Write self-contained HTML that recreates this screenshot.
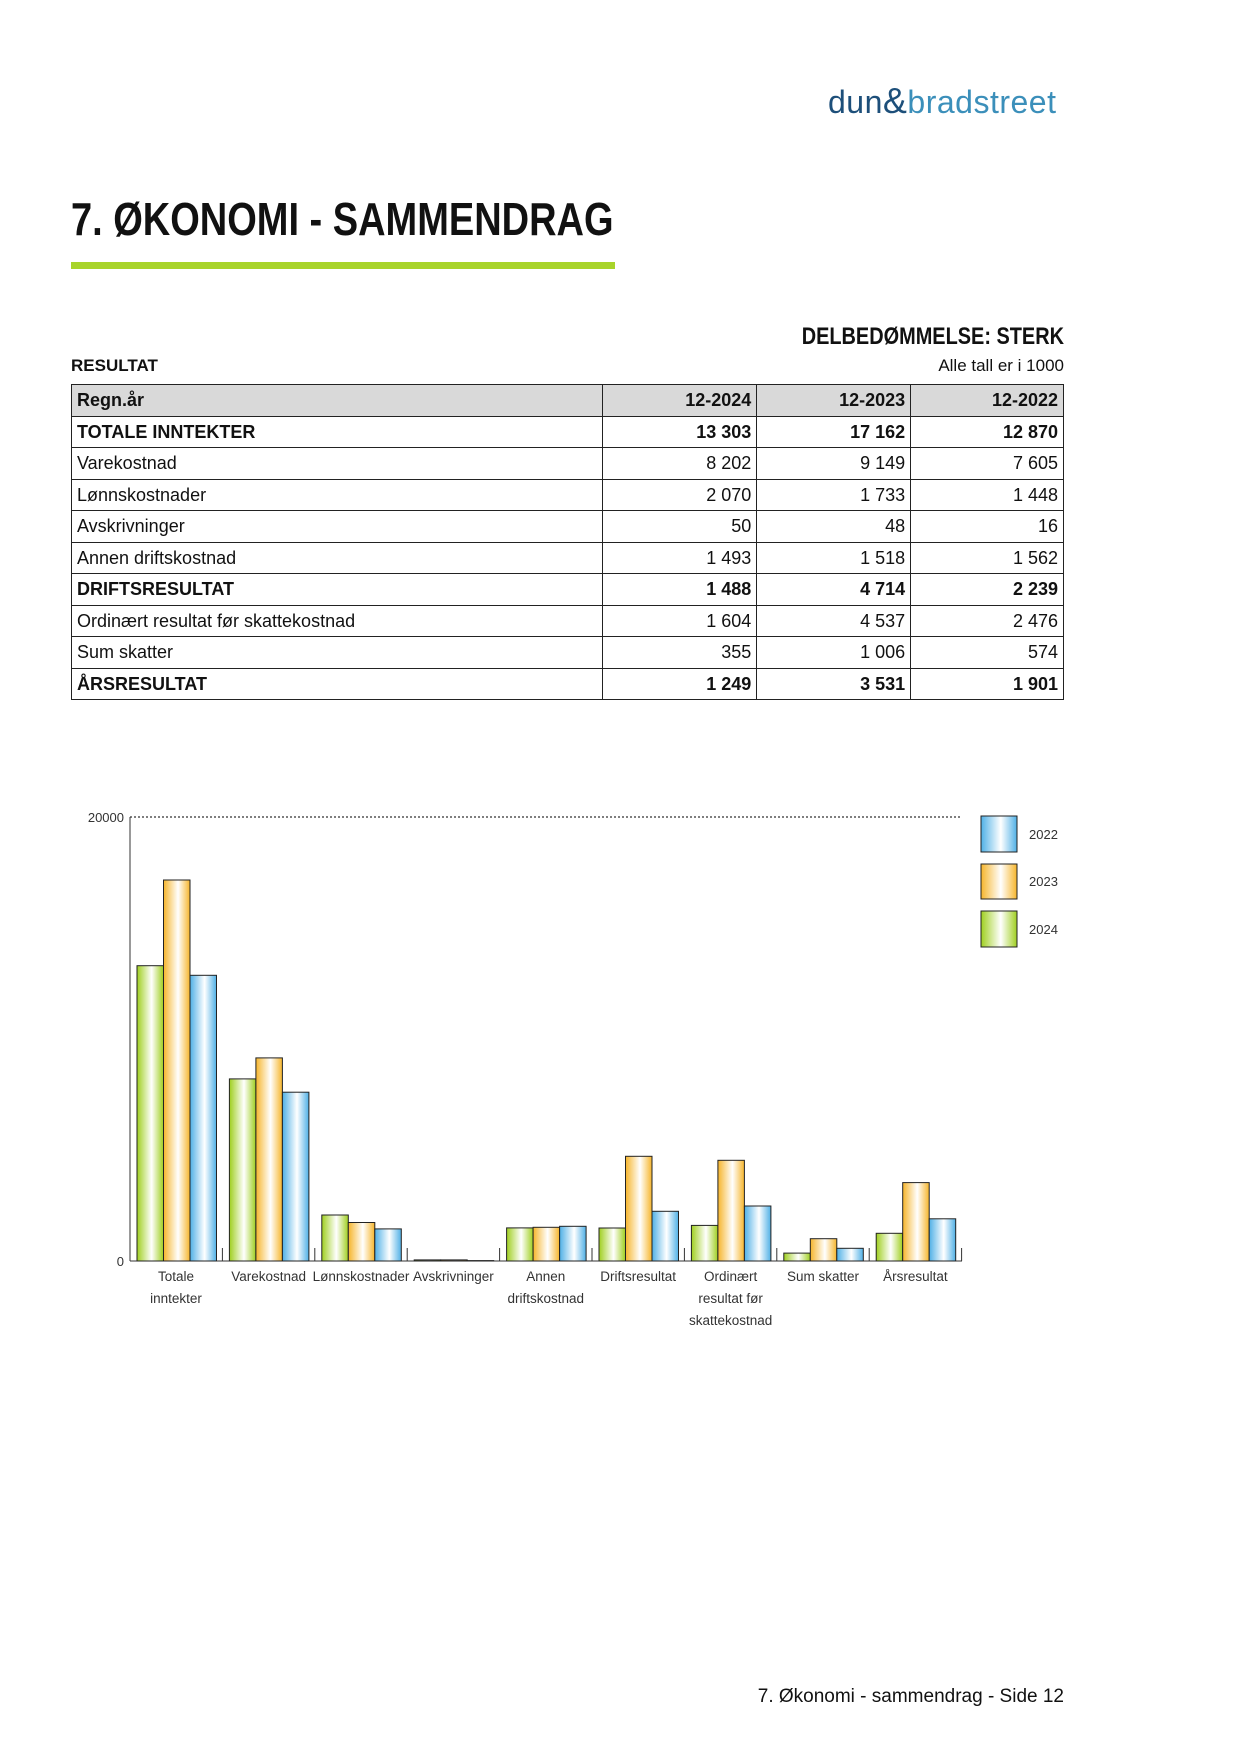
<!DOCTYPE html>
<html><head><meta charset="utf-8"><style>
html,body{margin:0;padding:0;background:#fff}
body{width:1241px;height:1754px;position:relative;overflow:hidden;font-family:"Liberation Sans",sans-serif;color:#111}
.abs{position:absolute}
.cond{transform-origin:0 0;font-weight:bold;white-space:nowrap}
table{position:absolute;left:71px;top:384px;width:993px;border-collapse:collapse;font-size:18px}
td{border:1px solid #222;height:30.5px;padding:0 5px;line-height:30px}
td.n{text-align:right}
tr.b td{font-weight:bold}
tr.h td{background:#d9d9d9;font-weight:bold}
</style></head><body>
<div class="abs" style="left:828px;top:80px;font-size:32px;letter-spacing:0.5px;white-space:nowrap"><span style="color:#1d4f7a">dun</span><span style="color:#1d4f7a;font-size:36px">&amp;</span><span style="color:#3b8fba">bradstreet</span></div>
<div class="abs cond" style="left:71px;top:192px;font-size:46px;transform:scaleX(0.826)">7. ØKONOMI - SAMMENDRAG</div>
<div class="abs" style="left:71px;top:262px;width:544px;height:7px;background:#a8d42a"></div>
<div class="abs cond" style="top:323px;font-size:24px;width:400px;text-align:right;transform:scaleX(0.83);transform-origin:100% 0;left:664px">DELBEDØMMELSE: STERK</div>
<div class="abs" style="left:71px;top:356px;font-size:17px;font-weight:bold">RESULTAT</div>
<div class="abs" style="left:864px;top:356px;width:200px;text-align:right;font-size:17px">Alle tall er i 1000</div>
<table>
<colgroup><col style="width:532px"><col style="width:154px"><col style="width:154px"><col style="width:153px"></colgroup>
<tr class="h"><td>Regn.år</td><td class="n">12-2024</td><td class="n">12-2023</td><td class="n">12-2022</td></tr>
<tr class="b"><td>TOTALE INNTEKTER</td><td class="n">13 303</td><td class="n">17 162</td><td class="n">12 870</td></tr>
<tr><td>Varekostnad</td><td class="n">8 202</td><td class="n">9 149</td><td class="n">7 605</td></tr>
<tr><td>Lønnskostnader</td><td class="n">2 070</td><td class="n">1 733</td><td class="n">1 448</td></tr>
<tr><td>Avskrivninger</td><td class="n">50</td><td class="n">48</td><td class="n">16</td></tr>
<tr><td>Annen driftskostnad</td><td class="n">1 493</td><td class="n">1 518</td><td class="n">1 562</td></tr>
<tr class="b"><td>DRIFTSRESULTAT</td><td class="n">1 488</td><td class="n">4 714</td><td class="n">2 239</td></tr>
<tr><td>Ordinært resultat før skattekostnad</td><td class="n">1 604</td><td class="n">4 537</td><td class="n">2 476</td></tr>
<tr><td>Sum skatter</td><td class="n">355</td><td class="n">1 006</td><td class="n">574</td></tr>
<tr class="b"><td>ÅRSRESULTAT</td><td class="n">1 249</td><td class="n">3 531</td><td class="n">1 901</td></tr>
</table>

<svg class="abs" style="left:0;top:0" width="1241" height="1754" font-family="Liberation Sans, sans-serif">
<defs>
<linearGradient id="g"><stop offset="0" stop-color="#9fcf1f"/><stop offset="0.55" stop-color="#ffffff"/><stop offset="1" stop-color="#9fcf1f"/></linearGradient>
<linearGradient id="o"><stop offset="0" stop-color="#f6b52b"/><stop offset="0.55" stop-color="#ffffff"/><stop offset="1" stop-color="#f6b52b"/></linearGradient>
<linearGradient id="b"><stop offset="0" stop-color="#4fb0e6"/><stop offset="0.55" stop-color="#ffffff"/><stop offset="1" stop-color="#4fb0e6"/></linearGradient>
</defs>
<line x1="130" y1="817" x2="962" y2="817" stroke="#333" stroke-width="1.2" stroke-dasharray="2,2"/>
<line x1="130" y1="817" x2="130" y2="1261" stroke="#333" stroke-width="1"/>
<line x1="130" y1="1261" x2="962" y2="1261" stroke="#333" stroke-width="1"/>
<text x="124" y="822" font-size="13" text-anchor="end" fill="#333">20000</text>
<text x="124" y="1266" font-size="13" text-anchor="end" fill="#333">0</text>
<g stroke="#333" stroke-width="1">
<line x1="222.4" y1="1248" x2="222.4" y2="1261"/><line x1="314.8" y1="1248" x2="314.8" y2="1261"/><line x1="407.2" y1="1248" x2="407.2" y2="1261"/><line x1="499.6" y1="1248" x2="499.6" y2="1261"/><line x1="592" y1="1248" x2="592" y2="1261"/><line x1="684.4" y1="1248" x2="684.4" y2="1261"/><line x1="776.8" y1="1248" x2="776.8" y2="1261"/><line x1="869.2" y1="1248" x2="869.2" y2="1261"/><line x1="961.6" y1="1248" x2="961.6" y2="1261"/>
</g>
<g stroke="#222" stroke-width="1">
<rect x="137" y="965.7" width="26.5" height="295.3" fill="url(#g)"/><rect x="163.5" y="880" width="26.5" height="381" fill="url(#o)"/><rect x="190" y="975.3" width="26.5" height="285.7" fill="url(#b)"/>
<rect x="229.4" y="1078.9" width="26.5" height="182.1" fill="url(#g)"/><rect x="255.9" y="1057.9" width="26.5" height="203.1" fill="url(#o)"/><rect x="282.4" y="1092.2" width="26.5" height="168.8" fill="url(#b)"/>
<rect x="321.8" y="1215" width="26.5" height="46" fill="url(#g)"/><rect x="348.3" y="1222.5" width="26.5" height="38.5" fill="url(#o)"/><rect x="374.8" y="1228.9" width="26.5" height="32.1" fill="url(#b)"/>
<rect x="414.2" y="1259.9" width="26.5" height="1.1" fill="url(#g)"/><rect x="440.7" y="1259.9" width="26.5" height="1.1" fill="url(#o)"/><rect x="467.2" y="1260.6" width="26.5" height="0.4" fill="url(#b)"/>
<rect x="506.6" y="1227.9" width="26.5" height="33.1" fill="url(#g)"/><rect x="533.1" y="1227.3" width="26.5" height="33.7" fill="url(#o)"/><rect x="559.6" y="1226.3" width="26.5" height="34.7" fill="url(#b)"/>
<rect x="599" y="1228" width="26.5" height="33" fill="url(#g)"/><rect x="625.5" y="1156.3" width="26.5" height="104.7" fill="url(#o)"/><rect x="652" y="1211.3" width="26.5" height="49.7" fill="url(#b)"/>
<rect x="691.4" y="1225.4" width="26.5" height="35.6" fill="url(#g)"/><rect x="717.9" y="1160.3" width="26.5" height="100.7" fill="url(#o)"/><rect x="744.4" y="1206" width="26.5" height="55" fill="url(#b)"/>
<rect x="783.8" y="1253.1" width="26.5" height="7.9" fill="url(#g)"/><rect x="810.3" y="1238.7" width="26.5" height="22.3" fill="url(#o)"/><rect x="836.8" y="1248.3" width="26.5" height="12.7" fill="url(#b)"/>
<rect x="876.2" y="1233.3" width="26.5" height="27.7" fill="url(#g)"/><rect x="902.7" y="1182.6" width="26.5" height="78.4" fill="url(#o)"/><rect x="929.2" y="1218.8" width="26.5" height="42.2" fill="url(#b)"/>
<rect x="981" y="816" width="36" height="36" fill="url(#b)"/><rect x="981" y="864" width="36" height="35" fill="url(#o)"/><rect x="981" y="911" width="36" height="36" fill="url(#g)"/>
</g>
<g font-size="13" fill="#333">
<text x="1029" y="839">2022</text><text x="1029" y="886">2023</text><text x="1029" y="934">2024</text>
</g>
<g font-size="13.5" fill="#333" text-anchor="middle">
<text x="176" y="1281">Totale</text><text x="176" y="1303">inntekter</text>
<text x="268.6" y="1281">Varekostnad</text>
<text x="361" y="1281">Lønnskostnader</text>
<text x="453.4" y="1281">Avskrivninger</text>
<text x="545.8" y="1281">Annen</text><text x="545.8" y="1303">driftskostnad</text>
<text x="638.2" y="1281">Driftsresultat</text>
<text x="730.6" y="1281">Ordinært</text><text x="730.6" y="1303">resultat før</text><text x="730.6" y="1325">skattekostnad</text>
<text x="823" y="1281">Sum skatter</text>
<text x="915.4" y="1281">Årsresultat</text>
</g>
</svg>
<div class="abs" style="left:634px;top:1686px;width:430px;text-align:right;font-size:19px">7. Økonomi - sammendrag - Side 12</div>
</body></html>
